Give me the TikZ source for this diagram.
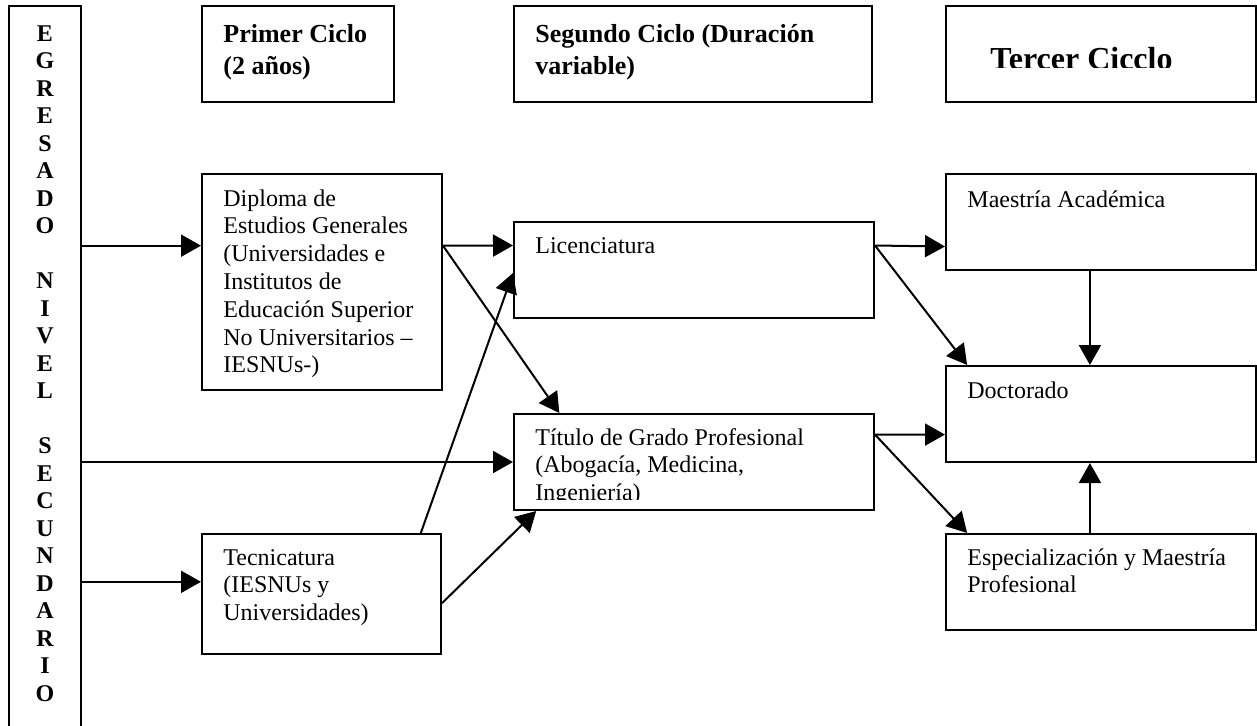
\documentclass[tikz,border=0pt]{standalone}
\usepackage{fontspec}
\setmainfont{Liberation Serif}
\usetikzlibrary{arrows.meta,calc,fit}
\newcommand{\mlL}[1]{\begin{tabular}[t]{@{}l@{}}#1\end{tabular}}
\newcommand{\mlC}[1]{\begin{tabular}[t]{@{}c@{}}#1\end{tabular}}
\begin{document}
\begin{tikzpicture}[x=0.5pt,y=-0.5pt,
  box/.style={draw, line width=1pt, inner sep=0pt},
  txt/.style={anchor=base west, inner sep=0pt, font=\fontsize{12}{13.9}\selectfont},
  hdr/.style={anchor=base west, inner sep=0pt, font=\fontsize{13}{16}\selectfont\bfseries},
  big/.style={anchor=base west, inner sep=0pt, font=\fontsize{16}{18}\selectfont\bfseries},
  vert/.style={anchor=base, inner sep=0pt, font=\fontsize{12}{13.75}\selectfont\bfseries},
  arr/.style={line width=1pt, -{Triangle[length=10pt,width=11pt]}}]
\useasboundingbox (0,0) rectangle (1257,725);
\fill[white] (0,0) rectangle (1257,725);
% boxes
\node[box, fit={(9,6) (81,745)}] (eg) {};
\node[box, fit={(202,6) (394,102)}] (h1) {};
\node[box, fit={(514,6) (872,102)}] (h2) {};
\node[box, fit={(946,6) (1256,102)}] (h3) {};
\node[box, fit={(202,174) (442,390)}] (dip) {};
\node[box, fit={(202,534) (441,654)}] (tec) {};
\node[box, fit={(514,222) (874,318)}] (lic) {};
\node[box, fit={(514,414) (874,510)}] (tit) {};
\node[box, fit={(946,174) (1256,270)}] (mae) {};
\node[box, fit={(946,366) (1256,462)}] (doc) {};
\node[box, fit={(946,534) (1256,630)}] (esp) {};
% texts
\node[vert] (egt) at (45,41) {\mlC{E\\G\\R\\E\\S\\A\\D\\O\\ \\N\\I\\V\\E\\L\\ \\S\\E\\C\\U\\N\\D\\A\\R\\I\\O}};
\node[hdr] (h1t) at (223,42) {\mlL{Primer Ciclo\\(2 años)}};
\node[hdr] (h2t) at (535,42) {\mlL{Segundo Ciclo (Duración\\variable)}};
\begin{scope}
\clip (946,6) rectangle (1256,67);
\node[big] (h3t) at (990,69) {Tercer Cicclo};
\end{scope}
\node[txt] (dipt) at (223,206) {\mlL{Diploma de\\Estudios Generales\\(Universidades e\\Institutos de\\Educación Superior\\No Universitarios –\\IESNUs-)}};
\node[txt] (tect) at (223,565) {\mlL{Tecnicatura\\(IESNUs y\\Universidades)}};
\node[txt] (lict) at (535,253) {Licenciatura};
\begin{scope}
\clip (514,414) rectangle (874,499);
\node[txt] (titt) at (535,445) {\mlL{Título de Grado Profesional\\(Abogacía, Medicina,\\Ingeniería)}};
\end{scope}
\node[txt] (maet) at (967,207) {Maestría Académica};
\node[txt] (doct) at (967,398) {Doctorado};
\node[txt] (espt) at (967,565) {\mlL{Especialización y Maestría\\Profesional}};
% connector end points
\coordinate (pDip) at ($(dip.north west)!0.3333!(dip.south west)$);
\coordinate (pTit) at ($(tit.north west)!0.5!(tit.south west)$);
\coordinate (pTec) at ($(tec.north west)!0.4!(tec.south west)$);
\coordinate (dipE) at ($(dip.north east)!0.3333!(dip.south east)$);
\coordinate (licW) at ($(lic.north west)!0.25!(lic.south west)$);
\coordinate (licW2) at ($(lic.north west)!0.53!(lic.south west)$);
\coordinate (titN) at ($(tit.north west)!0.128!(tit.north east)$);
\coordinate (tecN) at ($(tec.north west)!0.912!(tec.north east)$);
\coordinate (tecE) at ($(tec.north east)!0.575!(tec.south east)$);
\coordinate (titS) at ($(tit.south west)!0.064!(tit.south east)$);
\coordinate (licE) at ($(lic.north east)!0.25!(lic.south east)$);
\coordinate (maeW) at ($(mae.north west)!0.75!(mae.south west)$);
\coordinate (docN1) at ($(doc.north west)!0.071!(doc.north east)$);
\coordinate (docN2) at ($(doc.north west)!0.4645!(doc.north east)$);
\coordinate (maeS) at ($(mae.south west)!0.4645!(mae.south east)$);
\coordinate (titE) at ($(tit.north east)!0.22!(tit.south east)$);
\coordinate (docW) at ($(doc.north west)!0.71!(doc.south west)$);
\coordinate (espN1) at ($(esp.north west)!0.071!(esp.north east)$);
\coordinate (espN2) at ($(esp.north west)!0.4645!(esp.north east)$);
\coordinate (docS) at ($(doc.south west)!0.4645!(doc.south east)$);
% connectors
\draw[arr] (eg.east |- pDip) -- (pDip);
\draw[arr] (eg.east |- pTit) -- (pTit);
\draw[arr] (eg.east |- pTec) -- (pTec);
\draw[arr] (dipE) -- (licW);
\draw[arr] (dipE) -- (titN);
\draw[arr] (tecN) -- (licW2);
\draw[arr] (tecE) -- (titS);
\draw[arr] (licE) -- (maeW);
\draw[arr] (licE) -- (docN1);
\draw[arr] (maeS) -- (docN2);
\draw[arr] (titE) -- (docW);
\draw[arr] (titE) -- (espN1);
\draw[arr] (espN2) -- (docS);
\end{tikzpicture}
\end{document}
